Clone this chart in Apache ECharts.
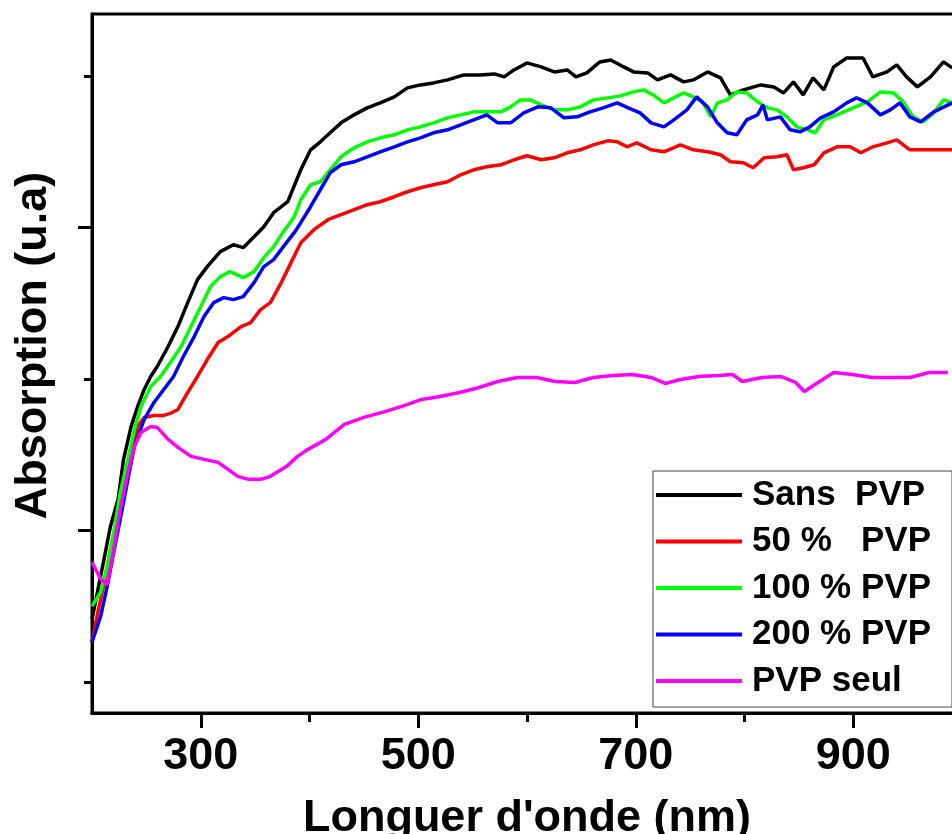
<!DOCTYPE html>
<html><head><meta charset="utf-8">
<script src="https://cdn.jsdelivr.net/npm/echarts@6/dist/echarts.min.js"></script>
<style>html,body{margin:0;padding:0;background:#fff}#c{width:952px;height:834px}</style>
</head><body><div id="c"></div>
<script>
// Wavelength (nm) and absorption (arbitrary units)
const sansNm  = [200,205,211,217,224,229,236,242,248,254,260,270,279,288,297,306,318,330,339,349,358,367,380,392,401,410,419,429,441,453,465,478,490,502,514,527,542,557,570,579,588,600,613,625,637,645,655,667,677,689,698,711,720,732,744,753,766,778,787,799,815,827,836,845,854,863,873,882,894,909,918,931,940,949,959,971,983,991];
const sansAbs = [0.94,1.21,1.54,1.87,2.14,2.54,2.87,3.07,3.24,3.37,3.47,3.67,3.87,4.11,4.34,4.47,4.62,4.69,4.66,4.77,4.87,5.01,5.12,5.44,5.64,5.72,5.81,5.91,5.99,6.06,6.11,6.17,6.26,6.29,6.31,6.34,6.39,6.39,6.40,6.37,6.44,6.51,6.47,6.42,6.44,6.37,6.41,6.52,6.54,6.47,6.42,6.41,6.34,6.39,6.32,6.34,6.42,6.36,6.19,6.24,6.29,6.27,6.21,6.32,6.19,6.36,6.24,6.47,6.56,6.56,6.37,6.42,6.49,6.37,6.27,6.37,6.52,6.46];

const p50Nm  = [200,205,211,217,224,229,236,242,248,257,266,272,279,288,297,306,316,325,337,346,355,364,374,383,392,404,417,429,441,453,465,478,490,502,514,527,539,551,563,576,588,600,613,625,637,649,661,674,683,692,701,714,726,741,753,766,778,787,799,808,818,830,839,845,854,864,873,885,897,907,918,931,940,952,968,991];
const p50Abs = [0.71,0.99,1.29,1.64,1.99,2.29,2.64,2.87,2.96,2.98,2.98,3.00,3.04,3.21,3.37,3.54,3.71,3.77,3.87,3.91,4.04,4.11,4.31,4.51,4.71,4.84,4.94,4.99,5.04,5.09,5.12,5.17,5.22,5.26,5.29,5.32,5.39,5.44,5.47,5.49,5.54,5.58,5.54,5.56,5.61,5.64,5.69,5.73,5.72,5.67,5.71,5.64,5.62,5.69,5.64,5.62,5.59,5.52,5.51,5.46,5.56,5.57,5.59,5.44,5.46,5.49,5.61,5.67,5.67,5.61,5.67,5.71,5.74,5.64,5.64,5.64];

const p100Nm  = [200,208,214,220,226,233,239,245,254,263,272,282,291,300,309,318,327,339,349,358,367,376,386,392,401,410,419,429,441,453,465,478,490,502,514,527,539,551,563,576,585,594,603,613,625,637,649,661,674,686,698,707,716,726,735,744,753,762,769,775,784,793,802,812,821,830,839,848,858,865,873,885,900,913,925,937,946,955,964,974,983,991];
const p100Abs = [1.07,1.21,1.47,1.81,2.21,2.54,2.84,3.07,3.27,3.37,3.51,3.67,3.87,4.07,4.27,4.37,4.42,4.36,4.42,4.56,4.67,4.82,4.97,5.14,5.29,5.32,5.44,5.57,5.66,5.72,5.76,5.79,5.84,5.87,5.91,5.96,5.99,6.02,6.02,6.02,6.07,6.14,6.14,6.09,6.04,6.04,6.07,6.14,6.16,6.18,6.22,6.24,6.19,6.11,6.16,6.21,6.17,6.11,5.97,6.11,6.14,6.22,6.21,6.12,6.06,6.04,5.97,5.87,5.84,5.81,5.94,5.99,6.06,6.12,6.22,6.21,6.12,5.97,5.92,6.01,6.14,6.11];

const p200Nm  = [200,208,214,220,226,233,239,248,257,266,275,284,294,303,312,321,330,339,349,358,367,376,386,392,401,410,419,429,441,453,465,478,490,502,514,527,539,551,563,573,585,597,610,622,634,646,658,670,683,693,704,714,726,735,747,756,766,775,784,793,802,812,817,821,833,842,851,860,870,882,894,903,913,925,934,943,952,962,974,991];
const p200Abs = [0.71,0.97,1.27,1.61,1.94,2.34,2.67,2.94,3.11,3.24,3.37,3.57,3.77,3.97,4.11,4.16,4.14,4.17,4.31,4.47,4.54,4.67,4.81,4.91,5.07,5.24,5.41,5.49,5.52,5.57,5.62,5.67,5.72,5.76,5.81,5.84,5.89,5.94,5.99,5.91,5.91,6.01,6.07,6.06,5.96,5.97,6.02,6.06,6.11,6.06,6.01,5.91,5.87,5.94,6.04,6.17,6.07,5.91,5.81,5.79,5.94,5.99,6.09,5.94,5.97,5.84,5.82,5.87,5.96,6.02,6.11,6.16,6.11,5.99,6.04,6.11,5.97,5.92,6.02,6.11];

const seulNm  = [200,208,214,220,226,233,239,245,254,260,270,279,291,303,316,325,334,344,355,364,379,389,397,415,432,450,467,485,503,520,538,556,573,591,609,626,644,661,679,697,714,727,741,758,776,789,798,816,833,847,855,869,882,899,917,935,952,970,987];
const seulAbs = [1.51,1.34,1.29,1.64,2.04,2.41,2.67,2.81,2.87,2.86,2.74,2.66,2.57,2.54,2.51,2.44,2.37,2.34,2.34,2.37,2.47,2.57,2.63,2.74,2.89,2.96,3.01,3.07,3.14,3.17,3.21,3.26,3.32,3.36,3.36,3.32,3.31,3.36,3.38,3.39,3.36,3.30,3.34,3.37,3.38,3.39,3.32,3.36,3.37,3.31,3.22,3.32,3.41,3.39,3.36,3.36,3.36,3.41,3.41];

const seriesNames = ['Sans  PVP', '50 %   PVP', '100 % PVP', '200 % PVP', 'PVP seul'];
const xLabelTicks = [300, 500, 700, 900];
const xMinorTicks = [400, 600, 800];
const yMajorTicks = [1.83, 4.86];
const yMinorTicks = [0.31, 3.34, 6.38];

const zip = (a, b) => a.map((v, i) => [v, b[i]]);
const colors = ['#000000', '#ff0000', '#00ff00', '#0000ff', '#ff00ff'];
const dataSets = [zip(sansNm, sansAbs), zip(p50Nm, p50Abs), zip(p100Nm, p100Abs), zip(p200Nm, p200Abs), zip(seulNm, seulAbs)];

const FONT = '"Liberation Sans", Arial, sans-serif';
const chart = echarts.init(document.getElementById('c'), null, {renderer: 'canvas'});
chart.setOption({
  backgroundColor: '#ffffff',
  animation: false,
  grid: {left: 92, right: -10, top: 14, bottom: 121, outerBoundsMode: 'none', containLabel: false,
         show: true, borderColor: '#000', borderWidth: 3, backgroundColor: 'transparent'},
  xAxis: [{
    type: 'value', min: 200, max: 1000, position: 'bottom',
    name: "Longuer d'onde (nm)", nameLocation: 'middle', nameGap: 83,
    nameTextStyle: {fontFamily: FONT, fontWeight: 'bold', fontSize: 45, color: '#000'},
    axisLine: {show: true, lineStyle: {color: '#000', width: 3}},
    axisTick: {show: true, inside: false, length: 15, lineStyle: {color: '#000', width: 3}, customValues: xLabelTicks},
    axisLabel: {show: true, customValues: xLabelTicks, margin: 21, fontFamily: FONT, fontWeight: 'bold', fontSize: 45, color: '#000'},
    splitLine: {show: false}
  }, {
    type: 'value', min: 200, max: 1000, position: 'bottom', offset: 0,
    axisLine: {show: false},
    axisTick: {show: true, length: 9, lineStyle: {color: '#000', width: 3}, customValues: xMinorTicks},
    axisLabel: {show: false},
    splitLine: {show: false}
  }],
  yAxis: [{
    type: 'value', min: 0, max: 7, position: 'left',
    name: 'Absorption (u.a)', nameLocation: 'middle', nameGap: 36, nameRotate: 90,
    nameTextStyle: {fontFamily: FONT, fontWeight: 'bold', fontSize: 45, color: '#000', padding: [0, 0, 0, 36]},
    axisLine: {show: true, lineStyle: {color: '#000', width: 3}},
    axisTick: {show: true, length: 14, lineStyle: {color: '#000', width: 3}, customValues: yMajorTicks},
    axisLabel: {show: false},
    splitLine: {show: false}
  }, {
    type: 'value', min: 0, max: 7, position: 'left', offset: 0,
    axisLine: {show: false},
    axisTick: {show: true, length: 8, lineStyle: {color: '#000', width: 3}, customValues: yMinorTicks},
    axisLabel: {show: false},
    splitLine: {show: false}
  }],
  legend: {
    orient: 'vertical', left: 653, top: 471,
    data: seriesNames,
    icon: 'rect', itemWidth: 86, itemHeight: 4, itemGap: 6.5,
    padding: [4, 21, 6, 3],
    borderColor: '#444', borderWidth: 1, backgroundColor: '#fff',
    textStyle: {fontFamily: FONT, fontWeight: 'bold', fontSize: 35, color: '#000', lineHeight: 40, padding: [0, 0, 0, 5]}
  },
  series: seriesNames.map((n, i) => ({
    name: n, type: 'line', xAxisIndex: 0, yAxisIndex: 0,
    data: dataSets[i], showSymbol: false, symbol: 'none',
    lineStyle: {color: colors[i], width: 3.5}, itemStyle: {color: colors[i]},
    z: 2 + i
  }))
});
</script></body></html>
